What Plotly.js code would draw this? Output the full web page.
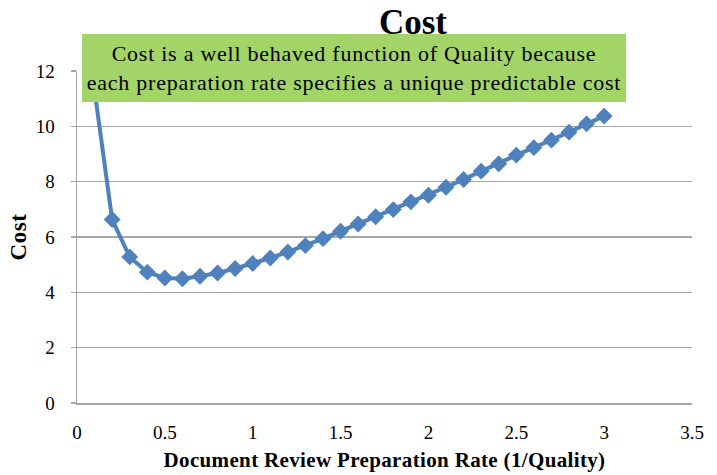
<!DOCTYPE html>
<html>
<head>
<meta charset="utf-8">
<script src="https://cdn.plot.ly/plotly-3.0.1.min.js"></script>
<style>
html,body{margin:0;padding:0;background:#fff;}
#chart{width:717px;height:475px;}
#chart .annotation-text{letter-spacing:0.75px;}
#chart .xtitle{letter-spacing:0.35px;}
#chart .ytitle{letter-spacing:0.6px;}
</style>
</head>
<body>
<div id="chart"></div>
<script>
// Data
const prepRate = [0.1,0.2,0.3,0.4,0.5,0.6,0.7,0.8,0.9,1.0,1.1,1.2,1.3,1.4,1.5,1.6,1.7,1.8,1.9,2.0,2.1,2.2,2.3,2.4,2.5,2.6,2.7,2.8,2.9,3.0];
const cost = [11.3,6.63,5.28,4.73,4.52,4.49,4.58,4.70,4.86,5.04,5.24,5.46,5.69,5.94,6.21,6.47,6.73,6.99,7.27,7.51,7.80,8.08,8.38,8.65,8.96,9.23,9.50,9.79,10.09,10.37];
const xTicks = [0,0.5,1,1.5,2,2.5,3,3.5];
const yTicks = [0,2,4,6,8,10,12];
const chartTitle = "Cost";
const xTitle = "Document Review Preparation Rate (1/Quality)";
const yTitle = "Cost";
const noteText = "Cost is a well behaved function of Quality because<br>each preparation rate specifies a unique predictable cost";

const FONT = "Liberation Serif, Times New Roman, serif";
const GRID = "#A6A6A6";

const trace = {
  x: prepRate, y: cost, type: "scatter", mode: "lines+markers",
  line: {color: "#4F81BD", width: 4},
  marker: {symbol: "diamond", size: 13, color: "#4F81BD", line: {width: 0}},
  cliponaxis: true, hoverinfo: "skip"
};

const L = 77, R = 25, T = 71, B = 72;
const W = 717, H = 475;
const pw = W - L - R, ph = H - T - B;
const px = v => (v - L) / pw;
const py = v => (H - B - v) / ph;

const layout = {
  width: W, height: H,
  margin: {l: L, r: R, t: T, b: B, pad: 0},
  paper_bgcolor: "#fff", plot_bgcolor: "#fff",
  showlegend: false,
  font: {family: FONT, color: "#000", size: 18},
  title: {text: "<b>" + chartTitle + "</b>", font: {family: FONT, size: 35, color: "#000"},
          x: 413 / W, xref: "container", xanchor: "center",
          y: 1 - 22 / H, yref: "container", yanchor: "middle"},
  xaxis: {
    range: [0, 3.5], tickvals: xTicks, ticktext: xTicks.map(String),
    showgrid: false, zeroline: false,
    showline: true, linecolor: GRID, linewidth: 1.5,
    ticks: "", ticklabelstandoff: 12,
    tickfont: {family: FONT, size: 19, color: "#000"},
    title: {text: "<b>" + xTitle + "</b>", font: {family: FONT, size: 21, color: "#000"}, standoff: 10}
  },
  yaxis: {
    range: [0, 12], tickvals: yTicks, ticktext: yTicks.map(String),
    showgrid: true, gridcolor: GRID, gridwidth: 1.5,
    zeroline: false, showline: true, linecolor: GRID, linewidth: 1.5,
    ticks: "outside", ticklen: 5, tickcolor: GRID, tickwidth: 1.5,
    ticklabelstandoff: 12,
    tickfont: {family: FONT, size: 19, color: "#000"},
    title: {text: "<b>" + yTitle + "</b>", font: {family: FONT, size: 23, color: "#000"}, standoff: 2}
  },
  annotations: [{
    text: noteText, showarrow: false,
    xref: "paper", yref: "paper",
    x: px(354), y: py(67.5), xanchor: "center", yanchor: "middle",
    width: 544, height: 68, borderpad: 0, borderwidth: 0,
    bgcolor: "#A2D467", align: "center",
    font: {family: FONT, size: 22, color: "#000"}
  }]
};

Plotly.newPlot("chart", [trace], layout, {staticPlot: true, displayModeBar: false});
</script>
</body>
</html>
